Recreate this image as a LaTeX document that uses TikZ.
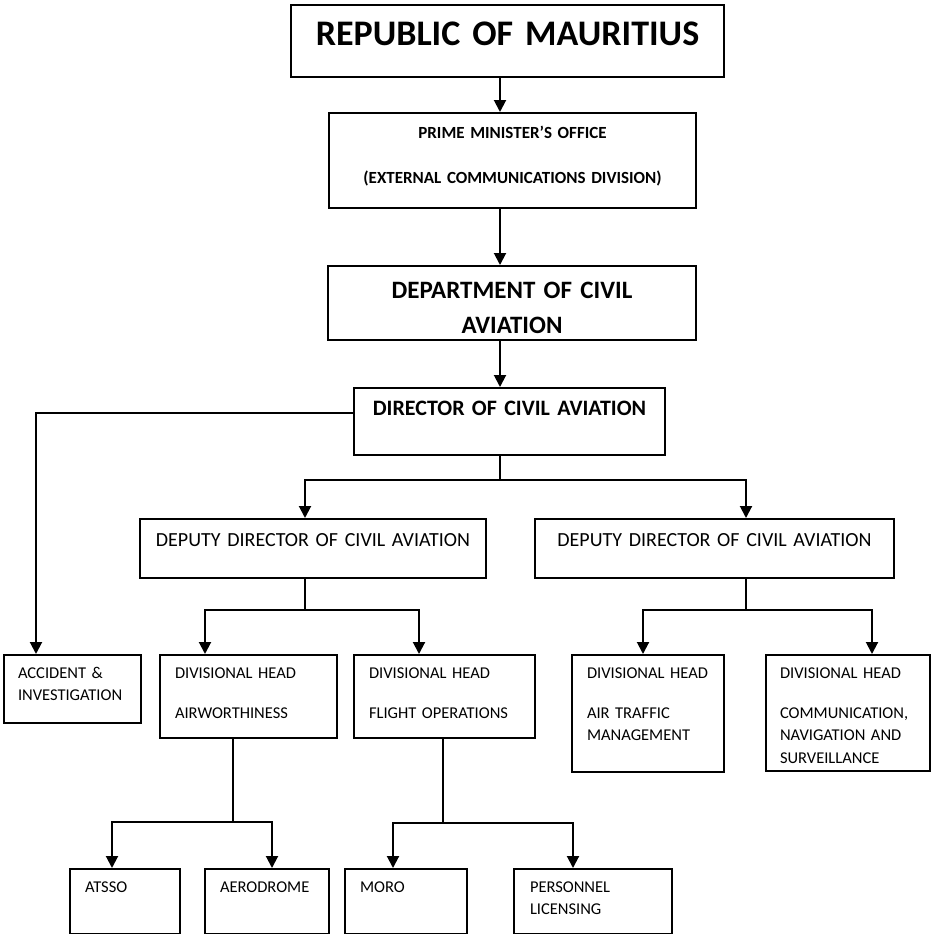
\documentclass[tikz,border=0pt]{standalone}
\usepackage{fontspec}
\setmainfont{Carlito}
\usetikzlibrary{positioning, arrows.meta}

\tikzset{
  orgbox/.style={draw, line width=2pt, anchor=north west, inner ysep=0pt, inner xsep=0pt, align=center},
  sub/.style={orgbox, align=left, inner xsep=15pt, font=\fontsize{16.5}{22.5}\selectfont},
  dims/.style n args={3}{text width=#1pt, text height=#2pt, text depth=#3pt},
  link/.style={line width=2pt},
  arr/.style={link, -{Triangle[width=12pt,length=12pt]}}
}

\begin{document}
\begin{tikzpicture}[x=1pt, y=-1pt]
    \useasboundingbox (0,0) rectangle (933,934);
    % top of the chart
    \node[orgbox, dims={433}{41}{31}, font=\bfseries\fontsize{36}{40}\selectfont] (rep) at (290,4) {REPUBLIC OF MAURITIUS};
    \node[orgbox, dims={367}{25}{70}, font=\bfseries\fontsize{17}{20}\selectfont] (pmo) at (328,112) {PRIME MINISTER’S OFFICE\\[25pt](EXTERNAL COMMUNICATIONS DIVISION)};
    \node[orgbox, dims={368}{32}{42}, font=\bfseries\fontsize{25}{35}\selectfont] (dept) at (327,265) {DEPARTMENT OF CIVIL\\AVIATION};
    \node[orgbox, dims={311}{27}{40}, font=\bfseries\fontsize{22}{26}\selectfont] (dir) at (353,387) {DIRECTOR OF CIVIL AVIATION};
    \node[orgbox, dims={346}{27}{32}, font=\fontsize{20}{24}\selectfont] (depL) at (139,518) {DEPUTY DIRECTOR OF CIVIL AVIATION};
    \node[orgbox, dims={359}{27}{32}, font=\fontsize{20}{24}\selectfont] (depR) at (534,518) {DEPUTY DIRECTOR OF CIVIL AVIATION};
    % divisions
    \node[sub, inner xsep=14pt, dims={109}{23}{45}] (acc) at (3,654) {ACCIDENT \&\\INVESTIGATION};
    \node[sub, dims={147}{23}{60}] (air) at (159,654) {DIVISIONAL HEAD\\[17.5pt]AIRWORTHINESS};
    \node[sub, dims={151}{23}{60}] (flt) at (353,654) {DIVISIONAL HEAD\\[17.5pt]FLIGHT OPERATIONS};
    \node[sub, dims={122}{23}{94}] (atm) at (571,654) {DIVISIONAL HEAD\\[17.5pt]AIR TRAFFIC\\MANAGEMENT};
    \node[sub, inner xsep=14pt, dims={136}{23}{93}] (cns) at (765,654) {DIVISIONAL HEAD\\[17.5pt]COMMUNICATION,\\NAVIGATION AND\\SURVEILLANCE};
    % sections
    \node[sub, dims={80}{23}{42}] (atsso) at (69,868) {ATSSO};
    \node[sub, dims={94}{23}{42}] (aero) at (204,868) {AERODROME};
    \node[sub, dims={92}{23}{42}] (moro) at (344,868) {MORO};
    \node[sub, inner xsep=16pt, dims={126}{23}{42}] (pers) at (513,868) {PERSONNEL\\LICENSING};

    % connectors
    \coordinate (spine) at (500,0);
    \draw[arr] (rep.south -| spine) -- (pmo.north -| spine);
    \draw[arr] (pmo.south -| spine) -- (dept.north -| spine);
    \draw[arr] (dept.south -| spine) -- (dir.north -| spine);
    \draw[arr] ([yshift=8.5pt]dir.west) -| ([xshift=33pt]acc.north west);

    \draw[link] (dir.south -| spine) -- ++(0,24) coordinate (dj);
    \draw[arr] (dj) -| ([xshift=166pt]depL.north west);
    \draw[arr] (dj) -| ([xshift=212pt]depR.north west);

    \draw[link] ([xshift=166pt]depL.south west) -- ++(0,31) coordinate (lj);
    \draw[arr] (lj) -| ([xshift=46pt]air.north west);
    \draw[arr] (lj) -| ([xshift=66pt]flt.north west);

    \draw[link] ([xshift=212pt]depR.south west) -- ++(0,31) coordinate (rj);
    \draw[arr] (rj) -| ([xshift=72pt]atm.north west);
    \draw[arr] (rj) -| ([xshift=107pt]cns.north west);

    \draw[link] ([xshift=74pt]air.south west) -- ++(0,83) coordinate (aj);
    \draw[arr] (aj) -| ([xshift=43pt]atsso.north west);
    \draw[arr] (aj) -| ([xshift=68pt]aero.north west);

    \draw[link] ([xshift=90pt]flt.south west) -- ++(0,84) coordinate (fj);
    \draw[arr] (fj) -| ([xshift=49pt]moro.north west);
    \draw[arr] (fj) -| ([xshift=60pt]pers.north west);
\end{tikzpicture}
\end{document}
